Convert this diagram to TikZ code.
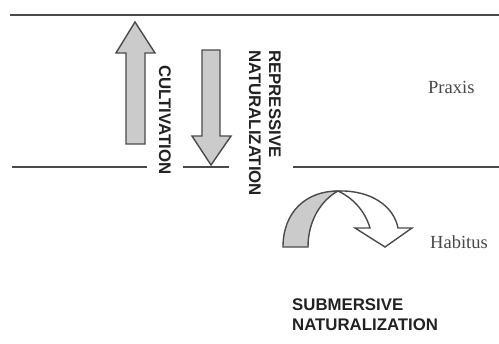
\documentclass[tikz,border=0pt]{standalone}
\usepackage{fontspec}
\setmainfont{Liberation Serif}
\newfontfamily\labfont{Liberation Sans}
\definecolor{linec}{HTML}{4A4A4A}
\definecolor{arrfill}{HTML}{CBCBCB}
\definecolor{txtc}{HTML}{222222}
\definecolor{sertxt}{HTML}{484848}
\begin{document}
\begin{tikzpicture}[x=1pt,y=-1pt,
  rule/.style={draw=linec,line width=1.6pt},
  toprule/.style={draw=linec,line width=2.2pt},
  bigarrow/.style={draw=linec,line width=1.4pt,fill=arrfill,line join=miter},
  openarrow/.style={draw=linec,line width=1.4pt,fill=white,line join=miter},
  caplabel/.style={font=\labfont\fontsize{16.8}{19}\selectfont\bfseries,text=txtc,inner sep=0pt},
  serlabel/.style={font=\fontsize{18.5}{22}\selectfont,text=sertxt,inner sep=0pt}]
\useasboundingbox (0,0) rectangle (499,344);
% horizontal lines
\draw[toprule] (10,15) -- (499,15);
\draw[rule] (12,167) -- (147,167);
\draw[rule] (183,167) -- (229,167);
\draw[rule] (293,167) -- (499,167);
% up arrow (cultivation)
\draw[bigarrow] (135,22) -- (155,53) -- (145,53) -- (145,144) -- (126,144) -- (126,53) -- (116,53) -- cycle;
% down arrow (repressive naturalization)
\draw[bigarrow] (202,50) -- (220,50) -- (220,136) -- (231,136) -- (211,165) -- (192,136) -- (202,136) -- cycle;
% curved arrow (submersive naturalization)
\draw[bigarrow] (283,247) .. controls (283,212) and (306,191) .. (338,191)
  .. controls (320,201) and (308,222) .. (308,247) -- cycle;
\draw[openarrow] (338,191) .. controls (372,190) and (394,207) .. (398,228)
  -- (412,228) -- (385,247) -- (355,228) -- (370,228)
  .. controls (365,211) and (353,198) .. (338,191) -- cycle;
% labels
\node[caplabel,rotate=-90,anchor=center] (cult) at (165,120) {CULTIVATION};
\node[caplabel,rotate=-90,anchor=west] (rep1) at (275,50) {REPRESSIVE};
\node[caplabel,rotate=-90,anchor=west] (rep2) at (255,50) {NATURALIZATION};
\node[caplabel,anchor=west] (sub1) at (292,305) {SUBMERSIVE};
\node[caplabel,anchor=west] (sub2) at (292,325) {NATURALIZATION};
\node[serlabel,anchor=west] (praxis) at (428,87) {Praxis};
\node[serlabel,anchor=west] (habitus) at (430,242) {Habitus};
\end{tikzpicture}
\end{document}
